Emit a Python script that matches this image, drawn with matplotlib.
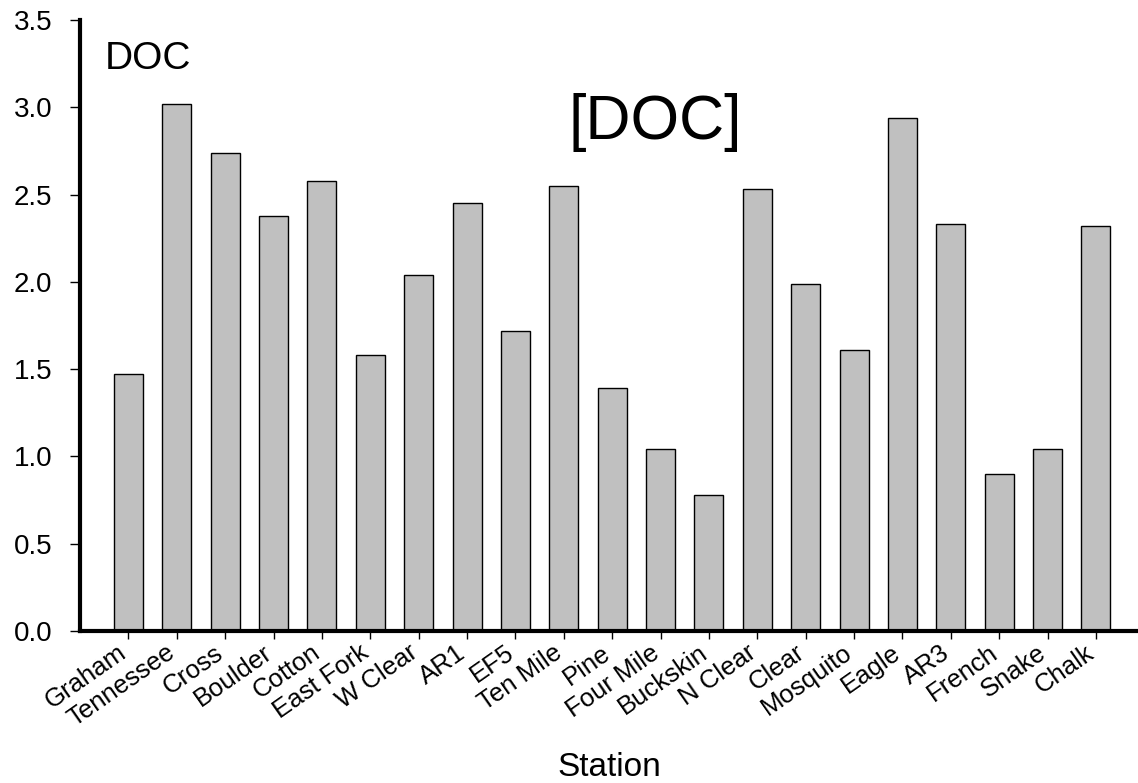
"""
Bar chart of DOC concentration by station.
"""

import matplotlib.pyplot as plt

plt.rcParams["font.family"] = ["Liberation Sans", "DejaVu Sans"]

STATIONS = [
    "Graham", "Tennessee", "Cross", "Boulder", "Cotton", "East Fork", "W Clear",
    "AR1", "EF5", "Ten Mile", "Pine", "Four Mile", "Buckskin", "N Clear",
    "Clear", "Mosquito", "Eagle", "AR3", "French", "Snake", "Chalk",
]
DOC = [
    1.47, 3.02, 2.74, 2.38, 2.58, 1.58, 2.04,
    2.45, 1.72, 2.55, 1.39, 1.04, 0.78, 2.53,
    1.99, 1.61, 2.94, 2.33, 0.90, 1.04, 2.32,
]
Y_TICKS = [0.0, 0.5, 1.0, 1.5, 2.0, 2.5, 3.0, 3.5]


def main():
    fig = plt.figure(figsize=(11.38, 7.83), dpi=100)
    ax = fig.add_axes([80 / 1138, 152 / 783, 1058 / 1138, 611 / 783])

    x = list(range(len(STATIONS)))
    ax.bar(x, DOC, width=0.6, color="#c0c0c0", edgecolor="black", linewidth=1.0)

    ax.set_xlim(-1, len(STATIONS) - 0.13)
    ax.set_ylim(0, 3.5)

    ax.set_yticks(Y_TICKS)
    ax.set_yticklabels([f"{v:.1f}" for v in Y_TICKS])
    ax.set_xticks(x)
    ax.set_xticklabels(STATIONS, rotation=35, ha="right", va="baseline",
                       rotation_mode="anchor")

    for side in ("top", "right"):
        ax.spines[side].set_visible(False)
    for side in ("left", "bottom"):
        ax.spines[side].set_linewidth(3)

    ax.tick_params(axis="y", length=7, width=1, pad=13, labelsize=20)
    ax.tick_params(axis="x", length=6, width=1, pad=12, labelsize=18.5)

    ax.set_xlabel("Station", fontsize=24, labelpad=15)

    ax.text(-0.48, 3.22, "DOC", fontsize=28, ha="left", va="baseline")
    ax.text(10.9, 2.82, "[DOC]", fontsize=45, ha="center", va="baseline")

    fig.savefig("out.png", dpi=100)


if __name__ == "__main__":
    main()
